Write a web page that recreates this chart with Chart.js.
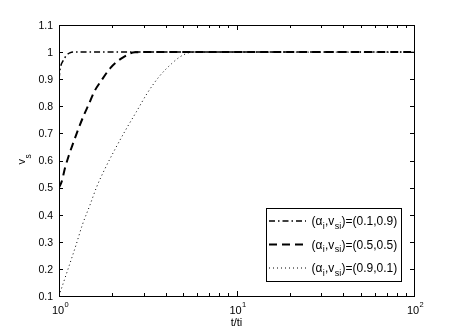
<!DOCTYPE html>
<html>
<head>
<meta charset="utf-8">
<script src="https://cdn.jsdelivr.net/npm/chart.js@4"></script>
<style>
  html, body { margin: 0; padding: 0; background: #fff; }
</style>
</head>
<body>
<canvas id="myChart" width="457" height="333"></canvas>
<script>
// values: t/ti against v_s
const dashDotT = [1, 1.013, 1.03, 1.05, 1.08, 1.1, 1.15, 1.2, 1.3, 2, 100];
const dashDotV = [0.9, 0.935, 0.955, 0.966, 0.98, 0.988, 0.997, 1, 1, 1, 1];

const dashedT = [1, 1.035, 1.08, 1.13, 1.2, 1.28, 1.37, 1.48, 1.58, 1.74, 1.94, 2.25, 2.68, 3.2, 100];
const dashedV = [0.5, 0.522, 0.571, 0.614, 0.663, 0.713, 0.762, 0.811, 0.854, 0.897, 0.94, 0.977, 0.999, 1, 1];

const dottedT = [1, 1.049, 1.144, 1.247, 1.353, 1.495, 1.631, 1.82, 2.07, 2.38, 2.73, 3.14, 3.66, 4.32, 4.82, 5.35, 5.97, 7, 100];
const dottedV = [0.1, 0.141, 0.214, 0.288, 0.362, 0.436, 0.503, 0.571, 0.642, 0.714, 0.78, 0.848, 0.909, 0.958, 0.983, 0.997, 1, 1, 1];

const alphaValues = ['0.1', '0.5', '0.9'];
const vsiValues = ['0.9', '0.5', '0.1'];

const yTickValues = [0.1, 0.2, 0.3, 0.4, 0.5, 0.6, 0.7, 0.8, 0.9, 1, 1.1];
const yTickLabels = ['0.1', '0.2', '0.3', '0.4', '0.5', '0.6', '0.7', '0.8', '0.9', '1', '1.1'];
const xTickValues = [1, 10, 100];
const xTickExponents = ['0', '1', '2'];

const FONT = '"Liberation Sans", Arial, sans-serif';

const toPoints = (ts, vs) => ts.map((t, i) => ({ x: t, y: vs[i] }));

// draws the box, inward ticks, tick labels, y title and legend
const decorations = {
  id: 'decorations',
  afterDatasetsDraw(chart) {
    const { ctx, chartArea: a, scales: { x, y } } = chart;
    ctx.save();
    ctx.strokeStyle = '#000';
    ctx.lineWidth = 1;
    ctx.setLineDash([]);
    ctx.strokeRect(a.left + 0.5, a.top + 0.5, a.right - a.left, a.bottom - a.top);

    ctx.beginPath();
    yTickValues.forEach(v => {
      const py = Math.round(y.getPixelForValue(v)) + 0.5;
      ctx.moveTo(a.left, py); ctx.lineTo(a.left + 4, py);
      ctx.moveTo(a.right, py); ctx.lineTo(a.right - 4, py);
    });
    [1, 10].forEach(dec => {
      for (let k = 1; k <= 10; k++) {
        const len = (k === 1 || k === 10) ? 5 : 3;
        const px = Math.round(x.getPixelForValue(k * dec)) + 0.5;
        ctx.moveTo(px, a.bottom); ctx.lineTo(px, a.bottom - len);
        ctx.moveTo(px, a.top); ctx.lineTo(px, a.top + len);
      }
    });
    ctx.stroke();

    // y tick labels
    ctx.fillStyle = '#000';
    ctx.font = '10.5px ' + FONT;
    ctx.textAlign = 'right';
    ctx.textBaseline = 'middle';
    yTickValues.forEach((v, i) => {
      ctx.fillText(yTickLabels[i], a.left - 6, y.getPixelForValue(v) + 1);
    });

    // x tick labels 10^n
    ctx.textBaseline = 'alphabetic';
    xTickValues.forEach((v, i) => {
      const px = x.getPixelForValue(v);
      ctx.font = '11px ' + FONT;
      ctx.textAlign = 'center';
      ctx.fillText('10', px - 1, a.bottom + 18);
      const w = ctx.measureText('10').width;
      ctx.font = '7.5px ' + FONT;
      ctx.textAlign = 'left';
      ctx.fillText(xTickExponents[i], px - 1 + w / 2 + 0.5, a.bottom + 11);
    });

    // x title
    ctx.font = '11px ' + FONT;
    ctx.textAlign = 'center';
    ctx.fillText('t/ti', (a.left + a.right) / 2, a.bottom + 30);

    // y title v_s
    ctx.save();
    ctx.translate(25, 164.5);
    ctx.rotate(-Math.PI / 2);
    ctx.textAlign = 'left';
    ctx.font = '11px ' + FONT;
    ctx.fillText('v', 0, 0);
    const vw = ctx.measureText('v').width;
    ctx.font = '8.5px ' + FONT;
    ctx.fillText('s', vw + 0.5, 6);
    ctx.restore();

    // legend
    const box = { left: 266, top: 208, right: 401, bottom: 281 };
    ctx.fillStyle = '#fff';
    ctx.fillRect(box.left, box.top, box.right - box.left, box.bottom - box.top);
    ctx.strokeStyle = '#000';
    ctx.strokeRect(box.left + 0.5, box.top + 0.5, box.right - box.left, box.bottom - box.top);
    const rows = [221, 244.5, 268];
    chart.data.datasets.forEach((ds, i) => {
      const ry = rows[i];
      ctx.save();
      ctx.strokeStyle = ds.borderColor;
      ctx.lineWidth = ds.borderWidth;
      ctx.setLineDash(ds.borderDash);
      ctx.beginPath();
      ctx.moveTo(269, ry); ctx.lineTo(306, ry);
      ctx.stroke();
      ctx.restore();

      ctx.fillStyle = '#000';
      ctx.textAlign = 'left';
      ctx.textBaseline = 'alphabetic';
      const base = ry + 4;
      let cx = 311.5;
      const part = (txt, size, dy) => {
        ctx.font = size + 'px ' + FONT;
        ctx.fillText(txt, cx, base + dy);
        cx += ctx.measureText(txt).width + 0.3;
      };
      part('(\u03b1', 12, 0);
      part('i', 9, 3.5);
      part(',v', 12, 0);
      part('si', 9, 3.5);
      part(')=(' + alphaValues[i] + ',' + vsiValues[i] + ')', 12, 0);
    });
    ctx.restore();
  }
};

const setup = () => {
  const ctxt = document.getElementById('myChart').getContext('2d');
  new Chart(ctxt, {
    type: 'line',
    data: {
      datasets: [
        {
          label: '(0.1,0.9)',
          data: toPoints(dashDotT, dashDotV),
          borderColor: '#000',
          borderWidth: 1.5,
          borderDash: [6, 3, 1.5, 3]
        },
        {
          label: '(0.5,0.5)',
          data: toPoints(dashedT, dashedV),
          borderColor: '#000',
          borderWidth: 2,
          borderDash: [8, 5]
        },
        {
          label: '(0.9,0.1)',
          data: toPoints(dottedT, dottedV),
          borderColor: '#000',
          borderWidth: 1,
          borderDash: [1, 3]
        }
      ]
    },
    options: {
      responsive: false,
      animation: false,
      layout: { padding: { top: 25, right: 43, left: 0, bottom: 0 } },
      elements: {
        point: { radius: 0 },
        line: { cubicInterpolationMode: 'monotone', fill: false }
      },
      scales: {
        x: {
          type: 'logarithmic',
          min: 1,
          max: 100,
          ticks: { display: false },
          grid: { display: false },
          border: { display: false },
          afterFit: (s) => { s.height = 37; }
        },
        y: {
          type: 'linear',
          min: 0.1,
          max: 1.1,
          ticks: { display: false },
          grid: { display: false },
          border: { display: false },
          afterFit: (s) => { s.width = 59; }
        }
      },
      plugins: {
        legend: { display: false },
        tooltip: { enabled: false }
      }
    },
    plugins: [decorations]
  });
};

window.addEventListener('DOMContentLoaded', setup);
</script>
</body>
</html>
